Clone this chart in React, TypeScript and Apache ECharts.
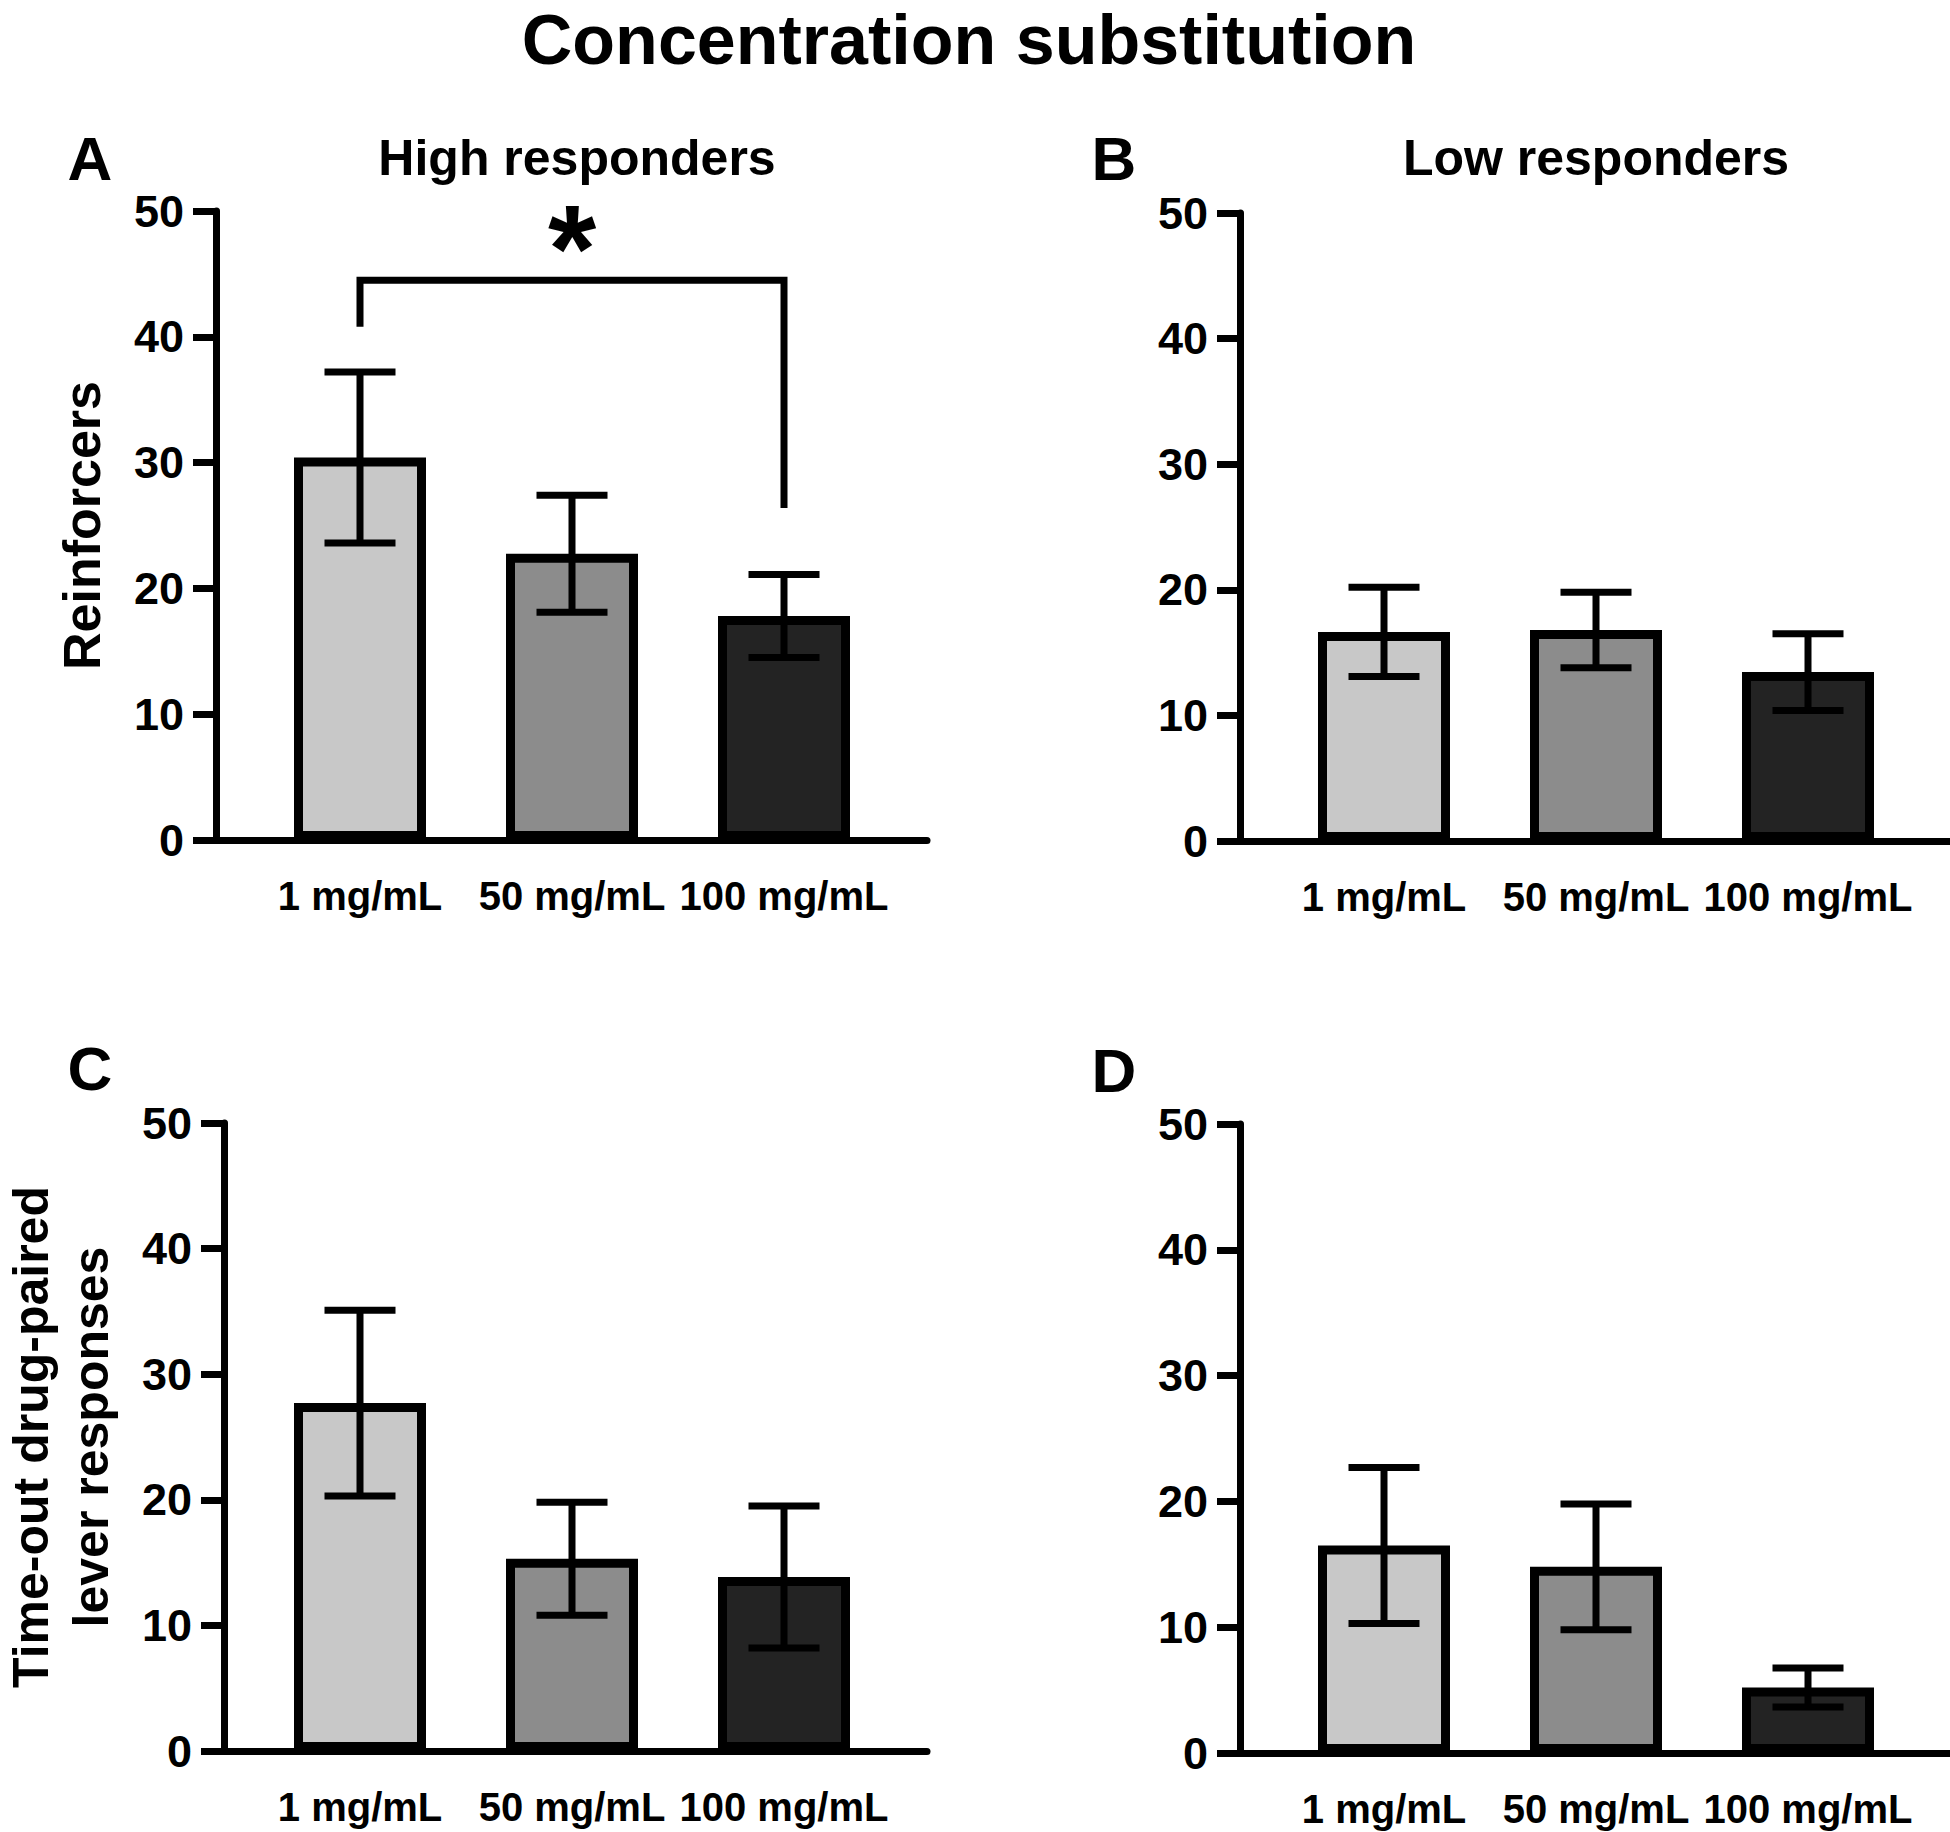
import React, { useEffect, useRef } from 'react';
import * as echarts from 'echarts';

// ---------- data ----------
const categories = ['1 mg/mL', '50 mg/mL', '100 mg/mL'];
const barColors = ['#c8c8c8', '#8c8c8c', '#232323'];
const yMin = 0;
const yMax = 50;
const yStep = 10;

const highReinforcersMean = [30.4, 22.75, 17.8];
const highReinforcersSem = [6.8, 4.65, 3.3];
const lowReinforcersMean = [16.65, 16.8, 13.45];
const lowReinforcersSem = [3.55, 3.0, 3.05];
const highTimeoutMean = [27.7, 15.3, 13.85];
const highTimeoutSem = [7.4, 4.5, 5.65];
const lowTimeoutMean = [16.5, 14.8, 5.2];
const lowTimeoutSem = [6.2, 5.0, 1.55];

// significance bracket in panel A: [fromIndex, toIndex, bracketLevel, leftLegEnd, rightLegEnd]
const sigBracket = [0, 2, 44.5, 40.8, 26.4];
const sigLabel = '*';

const mainTitle = 'Concentration substitution';
const panelLetters = ['A', 'B', 'C', 'D'];
const panelTitles = ['High responders', 'Low responders', '', ''];
const yAxisNames = ['Reinforcers', '', 'Time-out drug-paired\nlever responses', ''];

// ---------- layout ----------
const FONT = "'Liberation Sans', Arial, Helvetica, sans-serif";
const LINE_W = 7;

const panelLayout = [
  { left: 216, width: 711, top: 211, height: 629, nameGap: 106, letterX: 90, letterY: 158, titleX: 577, titleY: 158 },
  { left: 1240, width: 710, top: 213, height: 628, nameGap: 106, letterX: 1114, letterY: 158, titleX: 1596, titleY: 158 },
  { left: 216, width: 711, top: 1123, height: 628, nameGap: 103, letterX: 90, letterY: 1068, titleX: 577, titleY: 1068 },
  { left: 1240, width: 710, top: 1124, height: 629, nameGap: 106, letterX: 1114, letterY: 1070, titleX: 1596, titleY: 1070 },
];
const INNER_OFFSET = 38;
const INNER_WIDTH = 636;

const panelData = [
  { mean: highReinforcersMean, sem: highReinforcersSem },
  { mean: lowReinforcersMean, sem: lowReinforcersSem },
  { mean: highTimeoutMean, sem: highTimeoutSem },
  { mean: lowTimeoutMean, sem: lowTimeoutSem },
];

function buildOption() {
  const grid: any[] = [];
  const xAxis: any[] = [];
  const yAxis: any[] = [];
  const series: any[] = [];
  const graphic: any[] = [];

  graphic.push({
    type: 'text',
    x: 969,
    y: 5,
    style: {
      text: mainTitle,
      fontSize: 70,
      fontWeight: 'bold',
      fontFamily: FONT,
      fill: '#000',
      textAlign: 'center',
      textVerticalAlign: 'top',
    },
  });

  panelLayout.forEach((L, p) => {
    const outer = 2 * p;
    const inner = 2 * p + 1;
    grid.push({ left: L.left, top: L.top, width: L.width, height: L.height, containLabel: false });
    grid.push({ left: L.left + INNER_OFFSET, top: L.top, width: INNER_WIDTH, height: L.height, containLabel: false });

    // frame axes
    xAxis.push({
      type: 'value',
      gridIndex: outer,
      min: 0,
      max: 1,
      axisLine: { show: true, lineStyle: { color: '#000', width: LINE_W } },
      axisTick: { show: false },
      axisLabel: { show: false },
      splitLine: { show: false },
    });
    yAxis.push({
      type: 'value',
      gridIndex: outer,
      min: yMin,
      max: yMax,
      interval: yStep,
      name: yAxisNames[p],
      nameLocation: 'middle',
      nameGap: L.nameGap,
      nameTextStyle: {
        fontSize: p === 2 ? 50 : 52,
        fontWeight: 'bold',
        fontFamily: FONT,
        color: '#000',
        lineHeight: p === 2 ? 60 : 56,
      },
      axisLine: { show: true, lineStyle: { color: '#000', width: LINE_W } },
      axisTick: { show: true, length: 23, lineStyle: { color: '#000', width: LINE_W } },
      axisLabel: { show: true, margin: 32, fontSize: 45, fontWeight: 'bold', fontFamily: FONT, color: '#000' },
      splitLine: { show: false },
      z: 5,
    });

    // bar axes
    xAxis.push({
      type: 'category',
      gridIndex: inner,
      data: categories,
      axisLine: { show: false },
      axisTick: { show: false },
      axisLabel: { show: true, margin: 36, fontSize: 40, fontWeight: 'bold', fontFamily: FONT, color: '#000', interval: 0 },
      splitLine: { show: false },
    });
    yAxis.push({
      type: 'value',
      gridIndex: inner,
      min: yMin,
      max: yMax,
      interval: yStep,
      show: false,
    });

    const D = panelData[p];
    series.push({
      type: 'bar',
      xAxisIndex: inner,
      yAxisIndex: inner,
      barWidth: 132,
      clip: false,
      data: D.mean.map((v, i) => ({
        value: v,
        itemStyle: { color: barColors[i], borderColor: '#000', borderWidth: 9 },
      })),
      z: 2,
    });
    series.push({
      type: 'custom',
      xAxisIndex: inner,
      yAxisIndex: inner,
      z: 3,
      data: D.mean.map((v, i) => [i, v - D.sem[i], v + D.sem[i]]),
      renderItem: (params: any, api: any) => {
        const idx = api.value(0);
        const lo = api.coord([idx, api.value(1)]);
        const hi = api.coord([idx, api.value(2)]);
        const cx = lo[0];
        const half = 35.5;
        const style = { stroke: '#000', lineWidth: LINE_W, fill: null };
        return {
          type: 'group',
          children: [
            { type: 'line', shape: { x1: cx, y1: lo[1], x2: cx, y2: hi[1] }, style },
            { type: 'line', shape: { x1: cx - half, y1: hi[1], x2: cx + half, y2: hi[1] }, style },
            { type: 'line', shape: { x1: cx - half, y1: lo[1], x2: cx + half, y2: lo[1] }, style },
          ],
        };
      },
    });

    if (p === 0) {
      series.push({
        type: 'custom',
        xAxisIndex: inner,
        yAxisIndex: inner,
        z: 4,
        data: [sigBracket],
        renderItem: (params: any, api: any) => {
          const i0 = api.value(0);
          const i1 = api.value(1);
          const lvl = api.value(2);
          const a = api.coord([i0, lvl]);
          const b = api.coord([i1, lvl]);
          const aEnd = api.coord([i0, api.value(3)]);
          const bEnd = api.coord([i1, api.value(4)]);
          return {
            type: 'group',
            children: [
              {
                type: 'polyline',
                shape: { points: [[a[0], aEnd[1]], a, b, [b[0], bEnd[1]]] },
                style: { stroke: '#000', lineWidth: LINE_W, fill: null, lineJoin: 'miter' },
              },
              {
                type: 'text',
                x: (a[0] + b[0]) / 2,
                y: a[1] - 31,
                style: {
                  text: sigLabel,
                  fontSize: 124,
                  fontWeight: 'bold',
                  fontFamily: FONT,
                  fill: '#000',
                  textAlign: 'center',
                  textVerticalAlign: 'middle',
                },
              },
            ],
          };
        },
      });
    }

    graphic.push({
      type: 'text',
      x: L.letterX,
      y: L.letterY,
      style: {
        text: panelLetters[p],
        fontSize: 62,
        fontWeight: 'bold',
        fontFamily: FONT,
        fill: '#000',
        textAlign: 'center',
        textVerticalAlign: 'middle',
      },
    });
    if (panelTitles[p]) {
      graphic.push({
        type: 'text',
        x: L.titleX,
        y: L.titleY,
        style: {
          text: panelTitles[p],
          fontSize: 50,
          fontWeight: 'bold',
          fontFamily: FONT,
          fill: '#000',
          textAlign: 'center',
          textVerticalAlign: 'middle',
        },
      });
    }
  });

  return {
    animation: false,
    backgroundColor: '#ffffff',
    textStyle: { fontFamily: FONT },
    grid,
    xAxis,
    yAxis,
    series,
    graphic,
  };
}

export default function App() {
  const ref = useRef<HTMLDivElement>(null);
  useEffect(() => {
    if (!ref.current) return;
    const chart = echarts.init(ref.current, undefined, { renderer: 'svg' });
    chart.setOption(buildOption() as any);
    return () => {
      chart.dispose();
    };
  }, []);
  return (
    <div
      ref={ref}
      style={{ position: 'absolute', left: 0, top: 0, width: 1950, height: 1832, background: '#fff' }}
    />
  );
}
